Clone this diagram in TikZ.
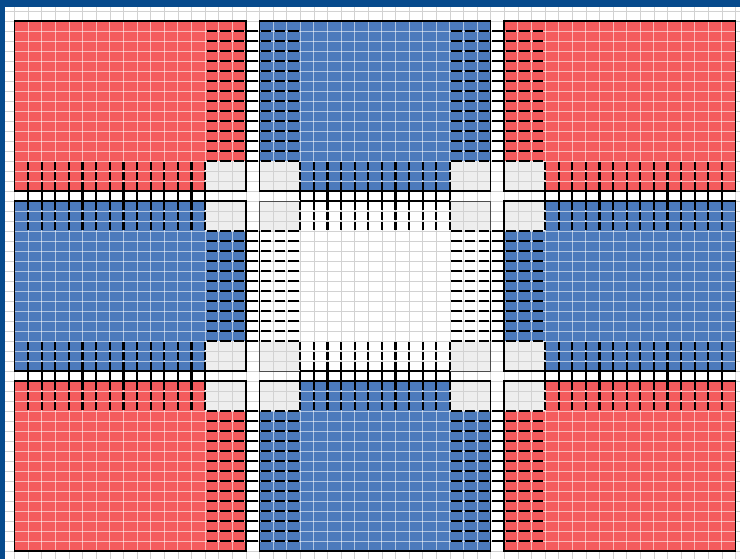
\documentclass[tikz,border=0pt]{standalone}
\definecolor{slideblue}{RGB}{6,74,140}
\definecolor{cellred}{RGB}{244,91,93}
\definecolor{cellblue}{RGB}{76,122,188}
\definecolor{gridgray}{RGB}{210,210,210}
\definecolor{cornergray}{RGB}{238,238,238}
\tikzset{
  gridline/.style={gridgray, line width=0.6pt},
  colgrid/.style={white, opacity=0.55, line width=0.9pt},
  blockedge/.style={black, line width=1.7pt},
  centeredge/.style={black!70, line width=0.9pt},
  haloedge/.style={black, line width=1.4pt},
  pinh/.style={black, line width=2.2pt, dash pattern=on 0pt off 1.6pt on 10.4pt off 1.6pt},
  pinv/.style={black, line width=2.2pt, dash pattern=on 0pt off 1.2pt on 7.4pt off 1.4pt},
}
\begin{document}
\begin{tikzpicture}[x=13.6pt,y=-10pt]
\useasboundingbox (-1.07353,-2.1) rectangle (53.3382,53.8);
\fill[white] (-1.07353,-2.1) rectangle (53.3382,53.8);
% background grid
\begin{scope}
  \clip (-0.706,-1.4) rectangle (53.3382,53.8);
  \foreach \c in {0,...,53} \draw[gridline] (\c,-1.4) -- (\c,53.8);
  \foreach \r in {-1,...,53} \draw[gridline] (-0.706,\r) -- (53.3382,\r);
\end{scope}
% coloured blocks
\foreach \i/\j/\clr in {0/0/cellred,1/0/cellblue,2/0/cellred,0/1/cellblue,2/1/cellblue,0/2/cellred,1/2/cellblue,2/2/cellred}{
  \pgfmathsetmacro\ba{18*\i}
  \pgfmathsetmacro\bb{18*\j}
  \fill[\clr] (\ba,\bb) rectangle ++(17,17);
  \begin{scope}
    \clip (\ba,\bb) rectangle ++(17,17);
    \foreach \k in {1,...,16}{
      \draw[colgrid] (\ba+\k,\bb) -- ++(0,17);
      \draw[colgrid] (\ba,\bb+\k) -- ++(17,0);
    }
  \end{scope}
}
% grey corners
\foreach \cx/\cy in {14/14,18/14,32/14,36/14,14/18,18/18,32/18,36/18,14/32,18/32,32/32,36/32,14/36,18/36,32/36,36/36}{
  \fill[cornergray] (\cx,\cy) rectangle ++(3,3);
  \foreach \k in {1,2}{
    \draw[gridline] (\cx+\k,\cy) -- ++(0,3);
    \draw[gridline] (\cx,\cy+\k) -- ++(3,0);
  }
}
% outlines
\foreach \i/\j in {0/0,1/0,2/0,0/1,2/1,0/2,1/2,2/2}{
  \draw[blockedge] (18*\i,18*\j) rectangle ++(17,17);
}
\draw[centeredge] (18,18) rectangle (35,35);
\draw[haloedge] (21,18) -- (32,18);
\draw[haloedge] (21,35) -- (32,35);
\draw[haloedge] (18,21) -- (18,32);
\draw[haloedge] (35,21) -- (35,32);
% horizontal pins
\foreach \xs in {14,32}{
  \foreach \r in {1,...,14} \draw[pinh] (\xs,\r) -- (\xs+7,\r);
  \foreach \r in {21,...,32} \draw[pinh] (\xs,\r) -- (\xs+7,\r);
  \foreach \r in {39,...,52} \draw[pinh] (\xs,\r) -- (\xs+7,\r);
}
% vertical pins
\foreach \ys in {14,32}{
  \foreach \c in {1,...,14} \draw[pinv] (\c,\ys) -- (\c,\ys+7);
  \foreach \c in {21,...,32} \draw[pinv] (\c,\ys) -- (\c,\ys+7);
  \foreach \c in {39,...,52} \draw[pinv] (\c,\ys) -- (\c,\ys+7);
}
% slide border
\fill[slideblue] (-1.07353,-2.1) rectangle (53.3382,-1.4);
\fill[slideblue] (-1.07353,-2.1) rectangle (-0.70588,53.8);
\end{tikzpicture}
\end{document}
